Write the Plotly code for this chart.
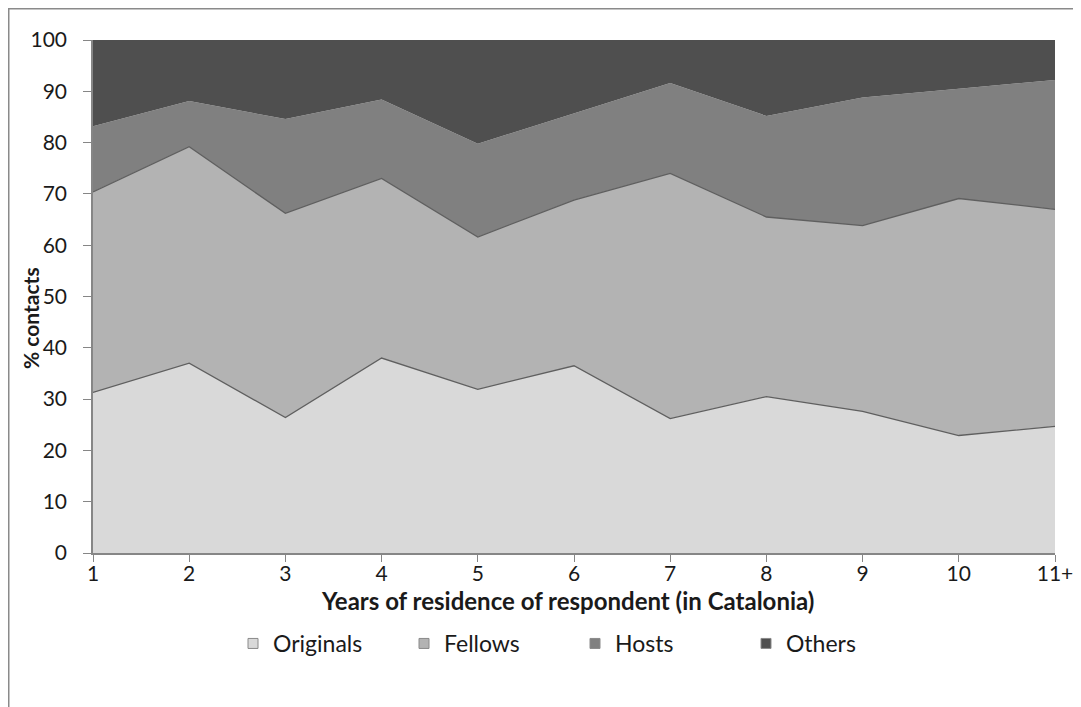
import plotly.graph_objects as go

years = ["1", "2", "3", "4", "5", "6", "7", "8", "9", "10", "11+"]
originals = [31.3, 37.0, 26.4, 38.0, 31.9, 36.5, 26.2, 30.5, 27.6, 22.9, 24.7]
fellows = [39.1, 42.2, 39.8, 35.0, 29.7, 32.3, 47.8, 35.0, 36.2, 46.2, 42.3]
hosts = [12.8, 8.9, 18.4, 15.4, 18.2, 16.9, 17.6, 19.7, 25.0, 21.4, 25.2]
others = [16.8, 11.9, 15.4, 11.6, 20.2, 14.3, 8.4, 14.8, 11.2, 9.5, 7.8]

x_title = "Years of residence of respondent (in Catalonia)"
y_title = "% contacts"

series = [
    ("Originals", originals, "#d9d9d9", "#5f5f5f", 1.3),
    ("Fellows", fellows, "#b3b3b3", "#5f5f5f", 1.3),
    ("Hosts", hosts, "#808080", "#808080", 0),
    ("Others", others, "#4f4f4f", "#4f4f4f", 0),
]

FONT = "Lato"
TXT = "#1a1a1a"
fig = go.Figure()
for name, vals, fill, line, lw in series:
    fig.add_trace(go.Scatter(
        x=years, y=vals, name=name, mode="lines", stackgroup="one",
        fillcolor=fill, line=dict(color=line, width=lw), showlegend=False,
    ))
# legend entries with square swatches
for name, vals, fill, line, lw in series:
    fig.add_trace(go.Scatter(
        x=[None], y=[None], name=name, mode="markers",
        marker=dict(symbol="square", size=10, color=fill,
                    line=dict(color="#8a8a8a", width=1)),
    ))

# page body has an 8px margin: figure coords = screen coords - 8
W, H = 1073, 699
L, R, T, B = 85, 26, 32, 154
pw, ph = W - L - R, H - T - B

def px_x(p):
    return (p - L) / pw

def px_y(p):
    return (H - B - p) / ph

fig.update_layout(
    width=W, height=H,
    margin=dict(l=L, r=R, t=T, b=B, autoexpand=False),
    paper_bgcolor="white", plot_bgcolor="white",
    font=dict(family=FONT, size=21, color=TXT),
    showlegend=True,
    legend=dict(orientation="h", x=px_x(225), xanchor="left", y=px_y(614), yanchor="top",
                traceorder="normal",
                entrywidth=126, entrywidthmode="pixels", itemwidth=30,
                font=dict(family=FONT, size=23, color=TXT)),
    xaxis=dict(
        type="category", range=[0, 10], showgrid=False, zeroline=False,
        showline=True, linecolor="#868686", linewidth=1.5,
        ticks="outside", ticklen=7, tickcolor="#868686", ticklabelstandoff=-6,
        tickfont=dict(family=FONT, size=21, color=TXT),
        automargin=False,
    ),
    yaxis=dict(
        range=[0, 100], dtick=10, showgrid=False, zeroline=False,
        showline=True, linecolor="#868686", linewidth=1.5,
        ticks="outside", ticklen=8, tickcolor="#868686", ticklabelstandoff=12,
        tickfont=dict(family=FONT, size=21, color=TXT),
        automargin=False,
    ),
    annotations=[
        dict(text="<b>" + x_title + "</b>", xref="paper", yref="paper",
             x=px_x(559), y=px_y(592), xanchor="center", yanchor="middle",
             showarrow=False, font=dict(family=FONT, size=24, color=TXT)),
        dict(text="<b>" + y_title + "</b>", xref="paper", yref="paper",
             x=px_x(22), y=px_y(310), xanchor="center", yanchor="middle",
             textangle=-90, showarrow=False, font=dict(family=FONT, size=21, color=TXT)),
    ],
    shapes=[
        dict(type="line", xref="paper", yref="paper", x0=px_x(0), x1=px_x(W + 5),
             y0=px_y(0.5), y1=px_y(0.5), line=dict(color="#8a8a8a", width=2)),
        dict(type="line", xref="paper", yref="paper", x0=px_x(0.5), x1=px_x(0.5),
             y0=px_y(0), y1=px_y(H + 5), line=dict(color="#8a8a8a", width=2)),
    ],
)

fig.write_html("out.html")
